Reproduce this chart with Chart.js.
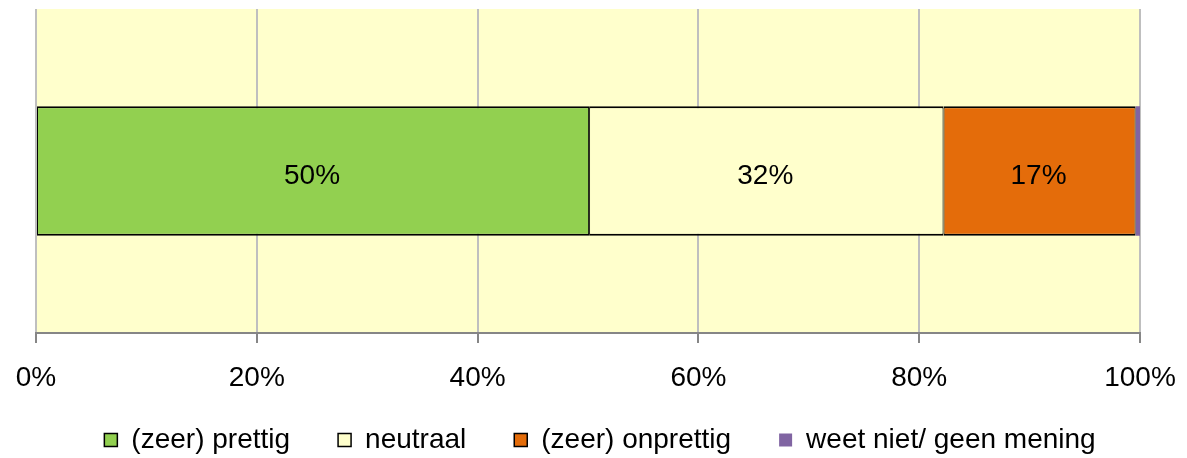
<!DOCTYPE html>
<html>
<head>
<meta charset="utf-8">
<script src="https://cdn.jsdelivr.net/npm/chart.js@4/dist/chart.umd.min.js"></script>
<style>
  html, body { margin: 0; padding: 0; background: #fff; }
  #wrap { width: 1187px; height: 458px; }
</style>
</head>
<body>
<div id="wrap"><canvas id="chartMain"></canvas></div>
<script>
// Data
const categories = [''];
const seriesNames = ['(zeer) prettig', 'neutraal', '(zeer) onprettig', 'weet niet/ geen mening'];
const seriesValues = [[50.1], [32.1], [17.4], [0.4]];
const seriesLabels = ['50%', '32%', '17%', ''];
const seriesColors = ['#92D050', '#FFFFCC', '#E46C0A', '#8064A2'];
const tickLabels = ['0%', '20%', '40%', '60%', '80%', '100%'];

const FONT = 'Liberation Sans, Arial, sans-serif';

// achtergrond van het plotgebied
const plotBg = {
  id: 'plotBg',
  beforeDraw(chart) {
    const { ctx, chartArea: a } = chart;
    ctx.save();
    ctx.fillStyle = '#FFFFCC';
    ctx.fillRect(a.left, a.top, a.right - a.left, a.bottom - a.top);
    ctx.restore();
  }
};

// legenda omhoog/rechts schuiven (labels.padding geldt zowel horizontaal als verticaal)
const legendShift = {
  id: 'legendShift',
  afterLayout(chart) {
    const lg = chart.legend;
    if (!lg) return;
    lg.top -= 36;
    lg.left += 12;
    lg.right += 12;
  }
};

// waarden midden in de balken
const barLabels = {
  id: 'barLabels',
  afterDatasetsDraw(chart) {
    const ctx = chart.ctx;
    ctx.save();
    ctx.font = '28px ' + FONT;
    ctx.fillStyle = '#000';
    ctx.textAlign = 'center';
    ctx.textBaseline = 'middle';
    chart.data.datasets.forEach((ds, i) => {
      const meta = chart.getDatasetMeta(i);
      meta.data.forEach((bar) => {
        const p = bar.getProps(['x', 'y', 'base'], true);
        if (seriesLabels[i]) ctx.fillText(seriesLabels[i], (p.x + p.base) / 2 - 1, p.y + 5);
      });
    });
    ctx.restore();
  }
};

const datasets = seriesNames.map((name, i) => ({
  label: name,
  data: seriesValues[i],
  backgroundColor: seriesColors[i],
  borderColor: '#000',
  borderWidth: i === 3 ? 0 : { top: 2, bottom: 2, left: 1, right: 1 },
  borderSkipped: false,
  barPercentage: 1,
  categoryPercentage: 0.4
}));

new Chart(document.getElementById('chartMain'), {
  type: 'bar',
  data: { labels: categories, datasets: datasets },
  options: {
    indexAxis: 'y',
    responsive: true,
    maintainAspectRatio: false,
    animation: false,
    layout: { padding: { left: 36, right: 47, top: 9, bottom: 0 } },
    plugins: {
      tooltip: { enabled: false },
      legend: {
        position: 'bottom',
        maxHeight: 44,
        labels: {
          boxWidth: 13,
          boxHeight: 13,
          padding: 48,
          color: '#000',
          font: { size: 28, family: FONT },
          generateLabels: (chart) => seriesNames.map((name, i) => ({
            text: name,
            fillStyle: seriesColors[i],
            strokeStyle: i === 3 ? seriesColors[i] : '#000',
            lineWidth: i === 3 ? 0 : 1.5,
            hidden: false,
            datasetIndex: i
          }))
        }
      }
    },
    scales: {
      x: {
        stacked: true,
        min: 0,
        max: 100,
        ticks: {
          stepSize: 20,
          padding: 11,
          color: '#000',
          font: { size: 28, family: FONT, lineHeight: 1.75 },
          callback: (v, i) => tickLabels[i]
        },
        grid: {
          color: '#BFBFBF',
          lineWidth: 2,
          tickLength: 10,
          tickColor: '#868686'
        },
        border: { color: '#868686', width: 2 }
      },
      y: {
        stacked: true,
        display: false
      }
    }
  },
  plugins: [plotBg, legendShift, barLabels]
});
</script>
</body>
</html>
